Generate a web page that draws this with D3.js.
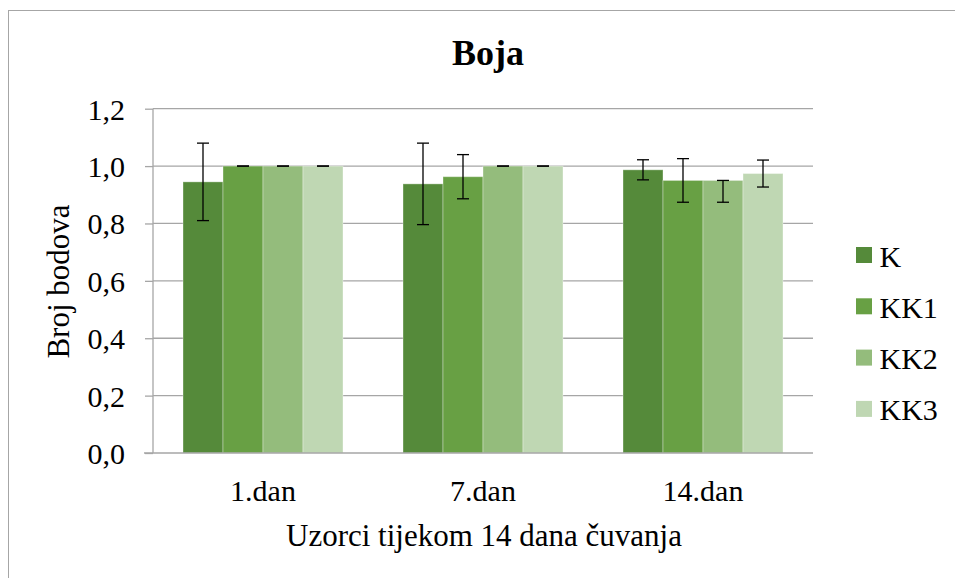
<!DOCTYPE html>
<html>
<head>
<meta charset="utf-8">
<script src="https://cdn.jsdelivr.net/npm/d3@7"></script>
<style>
  html, body { margin: 0; padding: 0; background: #fff; }
  svg { display: block; font-family: "Liberation Serif", "Times New Roman", serif; }
</style>
</head>
<body>
<svg id="chart" width="955" height="578"></svg>
<script>
// ---- data ----
const categories = ["1.dan", "7.dan", "14.dan"];
const seriesNames = ["K", "KK1", "KK2", "KK3"];
const valuesK   = [0.945, 0.938, 0.987];
const valuesKK1 = [1.0, 0.963, 0.950];
const valuesKK2 = [1.0, 1.0, 0.950];
const valuesKK3 = [1.0, 1.0, 0.974];
const errUpK   = [0.135, 0.142, 0.035];
const errUpKK1 = [0, 0.077, 0.076];
const errUpKK2 = [0, 0, 0];
const errUpKK3 = [0, 0, 0.047];
const errDownK   = [0.135, 0.142, 0.035];
const errDownKK1 = [0, 0.077, 0.076];
const errDownKK2 = [0, 0, 0.076];
const errDownKK3 = [0, 0, 0.047];
const yTicks = [0, 0.2, 0.4, 0.6, 0.8, 1.0, 1.2];
const colors = ["#558A3A", "#68A044", "#94BC7C", "#BFD7B3"];

const values = [valuesK, valuesKK1, valuesKK2, valuesKK3];
const errUp = [errUpK, errUpKK1, errUpKK2, errUpKK3];
const errDown = [errDownK, errDownKK1, errDownKK2, errDownKK3];

// ---- layout ----
const svg = d3.select("#chart");
const plot = { left: 153, right: 813, top: 108.7, bottom: 453 };
const fontSize = 30;

// outer border
svg.append("rect")
  .attr("x", 8.5).attr("y", 10.5)
  .attr("width", 1000).attr("height", 1000)
  .attr("fill", "none").attr("stroke", "#a6a6a6").attr("stroke-width", 1);

const x0 = d3.scaleBand().domain(categories).range([plot.left, plot.right]).paddingInner(0).paddingOuter(0);
const groupPad = 30;
const x1 = d3.scaleBand().domain(seriesNames).range([groupPad, x0.bandwidth() - groupPad]).padding(0);
const y = d3.scaleLinear().domain([0, 1.2]).range([plot.bottom, plot.top]);

// gridlines
const fmt = d => d.toFixed(1).replace(".", ",");
svg.append("g")
  .selectAll("line").data(yTicks.filter(d => d > 0)).join("line")
  .attr("x1", plot.left).attr("x2", plot.right)
  .attr("y1", d => y(d)).attr("y2", d => y(d))
  .attr("stroke", "#a6a6a6").attr("stroke-width", 1.3);

// y axis
const yAxis = d3.axisLeft(y).tickValues(yTicks).tickFormat(fmt).tickSize(8).tickPadding(20);
const yg = svg.append("g").attr("transform", `translate(${plot.left},0)`).call(yAxis);
yg.select(".domain").attr("stroke", "#a6a6a6").attr("stroke-width", 1.3).attr("d", `M0,${plot.top}V${plot.bottom}`);
yg.selectAll(".tick line").attr("stroke", "#a6a6a6").attr("stroke-width", 1.3);
yg.selectAll(".tick text").attr("font-size", fontSize).attr("fill", "#000")
  .attr("font-family", "Liberation Serif").attr("dy", "0.35em");

// bars
const groups = svg.append("g").selectAll("g").data(categories).join("g")
  .attr("transform", d => `translate(${x0(d)},0)`);

seriesNames.forEach((s, si) => {
  groups.append("rect")
    .attr("x", x1(s))
    .attr("width", x1.bandwidth())
    .attr("y", (d, ci) => y(values[si][ci]))
    .attr("height", (d, ci) => y(0) - y(values[si][ci]))
    .attr("fill", colors[si])
    .attr("stroke", "rgba(255,255,255,0.35)").attr("stroke-width", 1);
});

// x axis line
svg.append("line")
  .attr("x1", 144).attr("x2", plot.right)
  .attr("y1", plot.bottom).attr("y2", plot.bottom)
  .attr("stroke", "#a6a6a6").attr("stroke-width", 1.5);

// error bars
seriesNames.forEach((s, si) => {
  const cx = (ci) => x1(s) + x1.bandwidth() / 2;
  const eg = groups.append("g");
  eg.append("line")
    .attr("x1", cx).attr("x2", cx)
    .attr("y1", (d, ci) => y(values[si][ci] + errUp[si][ci]))
    .attr("y2", (d, ci) => y(values[si][ci] - errDown[si][ci]))
    .attr("stroke", "#000").attr("stroke-width", 1.3);
  eg.append("line")
    .attr("x1", (d, ci) => cx(ci) - 6).attr("x2", (d, ci) => cx(ci) + 6)
    .attr("y1", (d, ci) => y(values[si][ci] + errUp[si][ci]))
    .attr("y2", (d, ci) => y(values[si][ci] + errUp[si][ci]))
    .attr("stroke", "#000").attr("stroke-width", 1.3);
  eg.append("line")
    .attr("x1", (d, ci) => cx(ci) - 6).attr("x2", (d, ci) => cx(ci) + 6)
    .attr("y1", (d, ci) => y(values[si][ci] - errDown[si][ci]))
    .attr("y2", (d, ci) => y(values[si][ci] - errDown[si][ci]))
    .attr("stroke", "#000").attr("stroke-width", 1.3);
});

// category labels
svg.append("g").selectAll("text").data(categories).join("text")
  .attr("x", d => x0(d) + x0.bandwidth() / 2)
  .attr("y", 501)
  .attr("text-anchor", "middle")
  .attr("font-size", fontSize)
  .text(d => d);

// axis titles
svg.append("text")
  .attr("x", 484).attr("y", 546)
  .attr("text-anchor", "middle").attr("font-size", 31)
  .text("Uzorci tijekom 14 dana čuvanja");

svg.append("text")
  .attr("transform", "translate(69,281.5) rotate(-90)")
  .attr("text-anchor", "middle").attr("font-size", 31)
  .text("Broj bodova");

// title
svg.append("text")
  .attr("x", 488).attr("y", 65)
  .attr("text-anchor", "middle").attr("font-size", 36).attr("font-weight", "bold")
  .text("Boja");

// legend
const leg = svg.append("g").selectAll("g").data(seriesNames).join("g")
  .attr("transform", (d, i) => `translate(856,${247 + i * 51.3})`);
leg.append("rect").attr("width", 16).attr("height", 16).attr("fill", (d, i) => colors[i]);
leg.append("text").attr("x", 23.5).attr("y", 19.5).attr("font-size", fontSize).text(d => d);
</script>
</body>
</html>
